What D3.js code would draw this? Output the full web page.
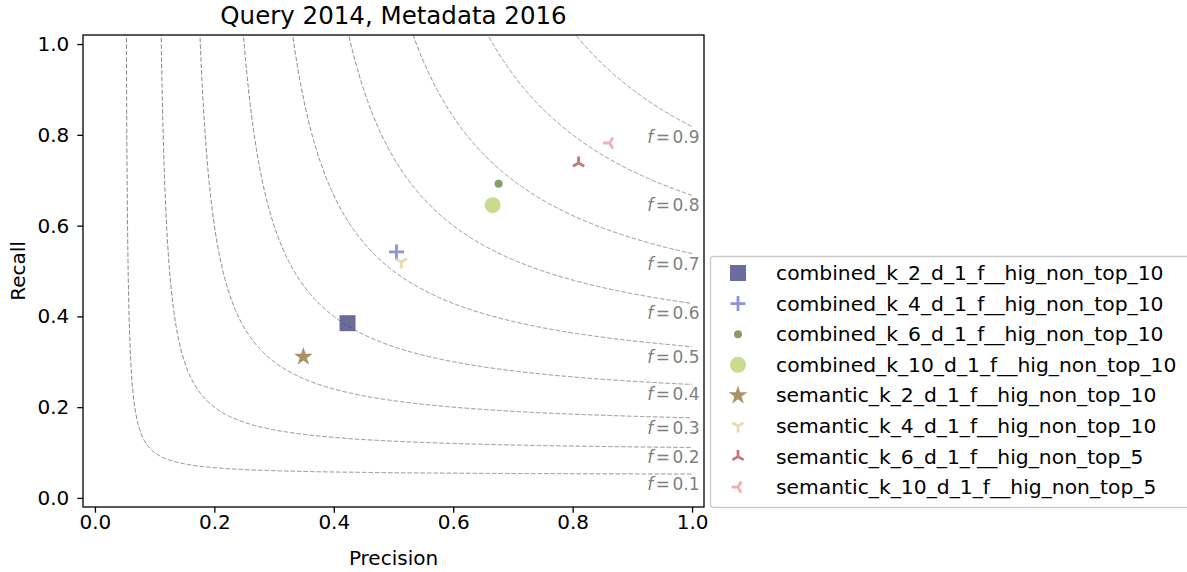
<!DOCTYPE html>
<html><head><meta charset="utf-8">
<script src="https://cdn.jsdelivr.net/npm/d3@7"></script>
<style>body{margin:0;background:#fff;} text{font-family:"DejaVu Sans",sans-serif;}</style>
</head><body><svg id="c" width="1187" height="572"></svg>
<script>
const seriesNames = ["combined_k_2_d_1_f__hig_non_top_10","combined_k_4_d_1_f__hig_non_top_10","combined_k_6_d_1_f__hig_non_top_10","combined_k_10_d_1_f__hig_non_top_10","semantic_k_2_d_1_f__hig_non_top_10","semantic_k_4_d_1_f__hig_non_top_10","semantic_k_6_d_1_f__hig_non_top_5","semantic_k_10_d_1_f__hig_non_top_5"];
const precision = [0.423, 0.505, 0.676, 0.666, 0.349, 0.513, 0.810, 0.862];
const recall    = [0.385, 0.542, 0.692, 0.645, 0.311, 0.520, 0.738, 0.782];
const markers   = ["square","plus","smallcircle","circle","star","tri_down","tri_up","tri_left"];
const colors    = ["#393b79","#6b6ecf","#637939","#b5cf6b","#8c6d31","#e7cb94","#ad494a","#e7969c"];
const fScores   = [0.1,0.2,0.3,0.4,0.5,0.6,0.7,0.8,0.9];
const ticks     = [0,0.2,0.4,0.6,0.8,1.0];

const svg = d3.select("#c");
const L=83,R=704,T=35,B=507;
const FS=20;
const x = d3.scaleLinear().domain([-0.02,1.02]).range([L,R]);
const y = d3.scaleLinear().domain([-0.02,1.02]).range([B,T]);

svg.append("defs").append("clipPath").attr("id","clip").append("rect")
  .attr("x",L).attr("y",T).attr("width",R-L).attr("height",B-T);

// iso-F curves
const g = svg.append("g").attr("clip-path","url(#clip)");
fScores.forEach(f=>{
  const pts=[];
  const x0 = f*1.2/(2*1.2-f);
  const n=800;
  for(let i=0;i<=n;i++){
    const px = x0 + (1-x0)*i/n;
    pts.push([px, f*px/(2*px-f)]);
  }
  g.append("path").attr("d", d3.line().x(d=>x(d[0])).y(d=>y(d[1]))(pts))
    .attr("fill","none").attr("stroke","#8a8a8a").attr("stroke-width",1)
    .attr("stroke-dasharray","4.5,2");
});
fScores.forEach(f=>{
  const t = svg.append("text").attr("x",x(0.925)).attr("y",y(f/(2-f))+10)
    .attr("dominant-baseline","central").attr("font-size",17).attr("fill","#808080");
  t.append("tspan").attr("font-style","italic").text("f");
  t.append("tspan").attr("dx",2.5).text("=");
  t.append("tspan").attr("dx",2.5).text(f.toFixed(1));
});

function drawMarker(sel, type, color){
  const op=0.75;
  if(type==="square"){
    sel.append("rect").attr("x",-8).attr("y",-8).attr("width",16).attr("height",16).attr("fill",color).attr("fill-opacity",op);
  } else if(type==="circle"){
    sel.append("circle").attr("r",8).attr("fill",color).attr("fill-opacity",op);
  } else if(type==="smallcircle"){
    sel.append("circle").attr("r",4).attr("fill",color).attr("fill-opacity",op);
  } else if(type==="star"){
    sel.append("path").attr("d",d3.symbol(d3.symbolStar,110)()).attr("fill",color).attr("fill-opacity",op);
  } else if(type==="plus"){
    sel.append("path").attr("d","M-7.5,0H7.5M0,-7.5V7.5").attr("stroke",color).attr("stroke-opacity",op).attr("stroke-width",2.8);
  } else {
    const Lr=6.5, c=0.866*Lr, s=0.5*Lr;
    let d;
    if(type==="tri_down") d=`M0,0V${Lr}M0,0L${-c},${-s}M0,0L${c},${-s}`;
    if(type==="tri_up") d=`M0,0V${-Lr}M0,0L${-c},${s}M0,0L${c},${s}`;
    if(type==="tri_left") d=`M0,0H${-Lr}M0,0L${s},${-c}M0,0L${s},${c}`;
    sel.append("path").attr("d",d).attr("stroke",color).attr("stroke-opacity",op).attr("stroke-width",2.8).attr("fill","none");
  }
}

seriesNames.forEach((nm,i)=>{
  const m = svg.append("g").attr("transform",`translate(${x(precision[i])},${y(recall[i])})`);
  drawMarker(m, markers[i], colors[i]);
});

// axes
const xa = svg.append("g").attr("transform",`translate(0,${B})`)
  .call(d3.axisBottom(x).tickValues(ticks).tickFormat(d3.format(".1f")).tickSize(5.7).tickPadding(2));
const ya = svg.append("g").attr("transform",`translate(${L},0)`)
  .call(d3.axisLeft(y).tickValues(ticks).tickFormat(d3.format(".1f")).tickSize(5.7).tickPadding(8));
[xa,ya].forEach(a=>{
  a.select(".domain").remove();
  a.selectAll("line").attr("stroke","#000").attr("stroke-width",1.3);
  a.selectAll("text").attr("font-size",FS).attr("fill","#000").attr("font-family","DejaVu Sans");
});
svg.append("rect").attr("x",L).attr("y",T).attr("width",R-L).attr("height",B-T)
  .attr("fill","none").attr("stroke","#000").attr("stroke-width",1.3);

svg.append("text").attr("x",(L+R)/2).attr("y",24).attr("text-anchor","middle").attr("font-size",24.5).text("Query 2014, Metadata 2016");
svg.append("text").attr("x",(L+R)/2).attr("y",565).attr("text-anchor","middle").attr("font-size",FS).text("Precision");
svg.append("text").attr("transform",`translate(25,${(T+B)/2}) rotate(-90)`).attr("text-anchor","middle").attr("font-size",FS).text("Recall");

// legend
const lg = svg.append("g");
lg.append("rect").attr("x",710.5).attr("y",256.5).attr("width",480).attr("height",251).attr("rx",3)
  .attr("fill","#fff").attr("fill-opacity",0.8).attr("stroke","#cccccc").attr("stroke-width",1.3);
seriesNames.forEach((nm,i)=>{
  const yy = 273 + i*30.6;
  const m = lg.append("g").attr("transform",`translate(738,${yy})`);
  drawMarker(m, markers[i], colors[i]);
  lg.append("text").attr("x",776).attr("y",yy).attr("dominant-baseline","central").attr("font-size",20.3).text(nm);
});
</script></body></html>
